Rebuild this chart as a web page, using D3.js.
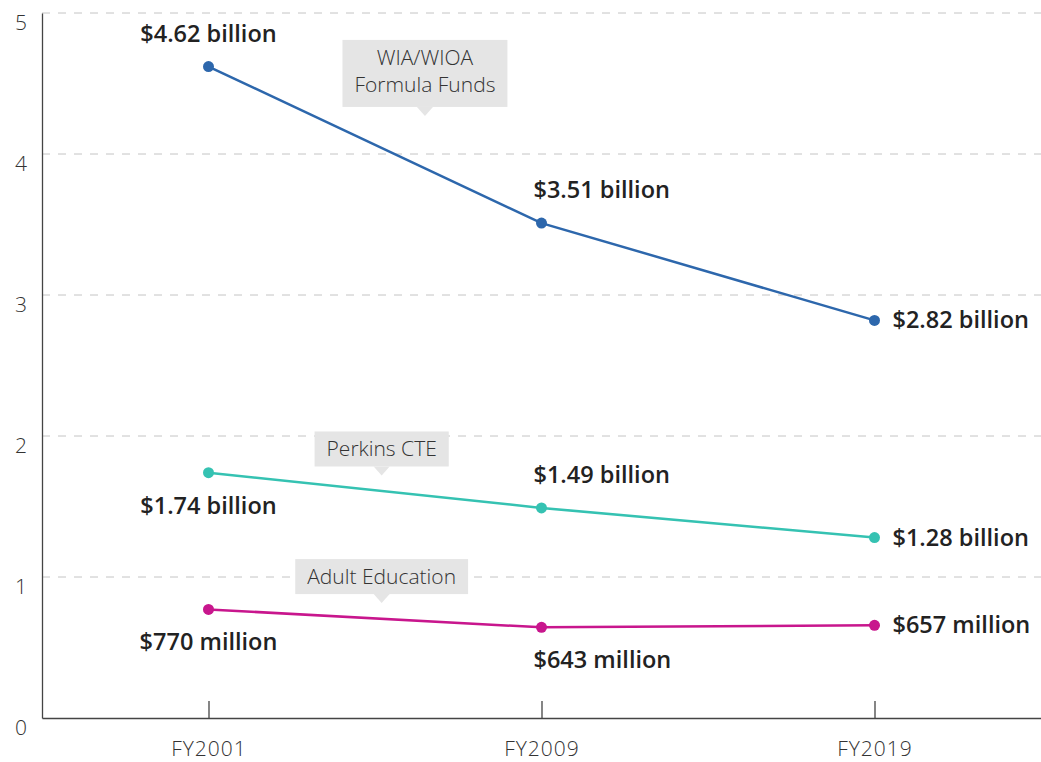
<!DOCTYPE html>
<html>
<head>
<meta charset="utf-8">
<script src="https://cdn.jsdelivr.net/npm/d3@7"></script>
<style>
  body { margin: 0; background: #fff; }
  text { font-family: "Open Sans", Lato, sans-serif; }
</style>
</head>
<body>
<script>
// chart values
const years = ['FY2001', 'FY2009', 'FY2019'];
const wioaValues = [4.62, 3.51, 2.82];
const perkinsValues = [1.74, 1.49, 1.28];
const adultValues = [0.770, 0.643, 0.657];
const wioaLabels = ['$4.62 billion', '$3.51 billion', '$2.82 billion'];
const perkinsLabels = ['$1.74 billion', '$1.49 billion', '$1.28 billion'];
const adultLabels = ['$770 million', '$643 million', '$657 million'];
const yTicks = [0, 1, 2, 3, 4, 5];

const margin = {top: 13, bottom: 44, left: 42, right: 0};
const width = 1041 - margin.left - margin.right;
const height = 762 - margin.top - margin.bottom;

const series = [
    {name: ['WIA/WIOA', 'Formula Funds'], values: wioaValues, labels: wioaLabels, color: '#2d67ac',
     place: ['above', 'above', 'right'], note: {t: 0.65, v: 4.27}},
    {name: ['Perkins CTE'], values: perkinsValues, labels: perkinsLabels, color: '#35c2b2',
     place: ['below', 'above', 'right'], note: {t: 0.52, v: 1.72}},
    {name: ['Adult Education'], values: adultValues, labels: adultLabels, color: '#c8168d',
     place: ['below', 'below', 'right'], note: {t: 0.52, v: 0.815}}
];

const svg = d3.select('body')
    .append('svg')
    .attr('width', 1041)
    .attr('height', 762);

const chart = svg.append('g')
    .attr('transform', 'translate(' + margin.left + ',' + margin.top + ')');

const x = d3.scalePoint()
    .domain(years)
    .range([0, width])
    .padding(0.5);

const y = d3.scaleLinear()
    .domain([0, 5])
    .range([height, 0]);

// dashed grid
chart.append('g')
    .selectAll('line')
    .data(yTicks.filter(d => d > 0))
    .enter()
    .append('line')
    .attr('x1', 0)
    .attr('x2', width)
    .attr('y1', d => y(d))
    .attr('y2', d => y(d))
    .attr('stroke', '#c4c4c4')
    .attr('stroke-width', 1)
    .attr('stroke-dasharray', '8,8');

// y axis
const yAxis = chart.append('g')
    .call(d3.axisLeft(y).tickValues(yTicks).tickFormat(d3.format('d')).tickSize(0).tickPadding(15));
yAxis.select('.domain').attr('stroke', '#444').attr('stroke-width', 1.3);
yAxis.selectAll('text')
    .attr('dy', '0.8em')
    .style('font-size', '21px')
    .style('font-weight', 300)
    .attr('fill', '#333');

// x axis, ticks pointing up
const xAxis = chart.append('g')
    .attr('transform', 'translate(0,' + height + ')')
    .call(d3.axisBottom(x).tickSizeInner(-17).tickSizeOuter(0).tickPadding(23));
xAxis.select('.domain').attr('stroke', '#444').attr('stroke-width', 1.3);
xAxis.selectAll('.tick line').attr('stroke', '#444').attr('stroke-width', 1.3);
xAxis.selectAll('text')
    .style('font-size', '21px')
    .style('letter-spacing', '1px')
    .style('font-weight', 300)
    .attr('fill', '#333');

const line = d3.line()
    .x((d, i) => x(years[i]))
    .y(d => y(d));

const step = x.step();

series.forEach(function (s) {
    const g = chart.append('g');

    g.append('path')
        .attr('d', line(s.values))
        .attr('fill', 'none')
        .attr('stroke', s.color)
        .attr('stroke-width', 2.5);

    g.selectAll('circle')
        .data(s.values)
        .enter()
        .append('circle')
        .attr('cx', (d, i) => x(years[i]))
        .attr('cy', d => y(d))
        .attr('r', 5.5)
        .attr('fill', s.color);

    g.selectAll('text.value')
        .data(s.values)
        .enter()
        .append('text')
        .attr('class', 'value')
        .attr('x', function (d, i) {
            const px = x(years[i]);
            if (s.place[i] === 'right') return px + 18;
            if (i === 0) return px;
            return px - 8;
        })
        .attr('y', function (d, i) {
            const py = y(d);
            if (s.place[i] === 'right') return py + 8;
            if (s.place[i] === 'above') return py - 25;
            return py + 41;
        })
        .attr('text-anchor', (d, i) => i === 0 ? 'middle' : 'start')
        .style('font-size', '23.5px')
        .style('font-weight', 600)
        .attr('fill', '#222')
        .text((d, i) => s.labels[i]);

    // callout box with pointer
    const cx = x(years[0]) + s.note.t * step;
    const tipY = y(s.note.v);
    const note = g.append('g');
    const lineH = 27;
    const boxH = s.name.length * 32 + 3;
    const boxBottom = tipY - 9;
    const boxTop = boxBottom - boxH;
    const rect = note.append('rect').attr('fill', '#e5e5e5');
    note.append('path')
        .attr('d', 'M' + (cx - 8) + ',' + boxBottom + 'L' + cx + ',' + tipY + 'L' + (cx + 8) + ',' + boxBottom + 'Z')
        .attr('fill', '#e5e5e5');
    const txt = note.selectAll('text')
        .data(s.name)
        .enter()
        .append('text')
        .attr('x', cx)
        .attr('y', (d, i) => boxTop + 25 + lineH * i)
        .attr('text-anchor', 'middle')
        .style('font-size', '21px')
        .style('font-weight', 300)
        .attr('fill', '#333')
        .text(d => d);
    let w = 0;
    txt.each(function () { w = Math.max(w, this.getComputedTextLength()); });
    rect.attr('x', cx - w / 2 - 12)
        .attr('y', boxTop)
        .attr('width', w + 24)
        .attr('height', boxH);
});
</script>
</body>
</html>
